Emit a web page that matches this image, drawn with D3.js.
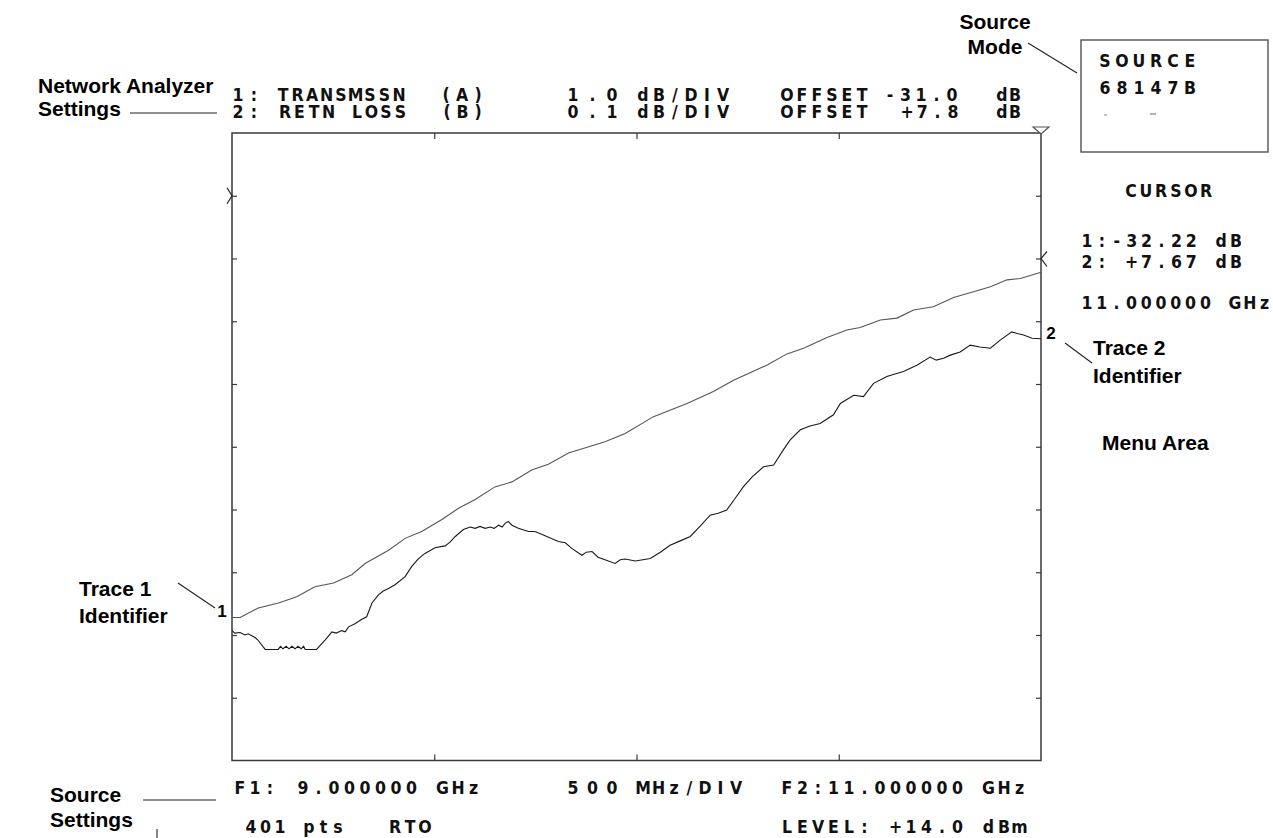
<!DOCTYPE html>
<html><head><meta charset="utf-8">
<script src="https://cdn.jsdelivr.net/npm/d3@7"></script>
<style>
html,body{margin:0;padding:0;background:#fff;}
svg{display:block;}
.mono{font-family:"DejaVu Sans Condensed","DejaVu Sans",sans-serif;font-weight:bold;font-size:17.5px;fill:#111;}
.lab{font-family:"Liberation Sans",Arial,sans-serif;font-weight:bold;font-size:21px;fill:#000;}
</style></head>
<body>
<svg id="c" width="1273" height="838"></svg>
<script>
// ---------------- DATA ----------------
// Frequency axis (GHz)
const fStart = 9.0, fStop = 11.0;
const xTickValues = [9.5, 10.0, 10.5];
// Trace 1: transmission, 1.0 dB/div, offset -31.0 dB (reference at division 9)
const trace1Freq = [9.000,9.020,9.065,9.115,9.160,9.205,9.251,9.296,9.329,9.387,9.428,9.469,9.519,9.560,9.601,9.650,9.692,9.741,9.782,9.832,9.922,9.972,10.042,10.125,10.190,10.240,10.322,10.372,10.413,10.471,10.520,10.553,10.603,10.644,10.685,10.734,10.784,10.833,10.875,10.916,10.949,11.000];
const trace1dB   = [-37.72,-37.72,-37.57,-37.49,-37.39,-37.23,-37.17,-37.04,-36.86,-36.65,-36.46,-36.35,-36.16,-35.98,-35.84,-35.64,-35.56,-35.37,-35.28,-35.10,-34.92,-34.79,-34.52,-34.31,-34.12,-33.94,-33.70,-33.52,-33.43,-33.26,-33.14,-33.10,-32.98,-32.95,-32.82,-32.77,-32.62,-32.53,-32.45,-32.34,-32.32,-32.22];
// Trace 2: return loss, 0.1 dB/div, offset +7.8 dB (reference at division 8)
const trace2Freq = [9.000,9.007,9.020,9.032,9.040,9.057,9.064,9.082,9.114,9.120,9.126,9.134,9.141,9.148,9.156,9.163,9.171,9.177,9.181,9.209,9.230,9.247,9.258,9.271,9.280,9.288,9.304,9.321,9.333,9.346,9.362,9.374,9.387,9.403,9.428,9.444,9.460,9.477,9.502,9.527,9.539,9.552,9.572,9.589,9.601,9.613,9.626,9.638,9.648,9.659,9.668,9.675,9.683,9.692,9.708,9.733,9.749,9.774,9.807,9.824,9.840,9.865,9.876,9.890,9.905,9.922,9.947,9.960,9.972,9.997,10.034,10.059,10.083,10.108,10.133,10.158,10.182,10.202,10.223,10.244,10.264,10.286,10.314,10.339,10.363,10.380,10.405,10.429,10.454,10.487,10.504,10.537,10.561,10.586,10.619,10.639,10.660,10.693,10.726,10.741,10.759,10.776,10.800,10.825,10.849,10.875,10.899,10.928,10.944,10.957,10.978,11.000];
const trace2dB   = [7.207,7.203,7.204,7.200,7.202,7.196,7.192,7.177,7.177,7.182,7.178,7.182,7.178,7.182,7.178,7.182,7.178,7.182,7.177,7.177,7.192,7.205,7.203,7.207,7.205,7.213,7.218,7.225,7.229,7.251,7.264,7.270,7.274,7.280,7.293,7.309,7.321,7.330,7.339,7.342,7.348,7.357,7.368,7.372,7.370,7.373,7.370,7.372,7.370,7.375,7.372,7.378,7.381,7.375,7.370,7.365,7.365,7.358,7.349,7.347,7.338,7.327,7.332,7.333,7.324,7.320,7.314,7.320,7.321,7.318,7.322,7.332,7.343,7.350,7.357,7.374,7.391,7.394,7.399,7.418,7.436,7.452,7.468,7.471,7.495,7.511,7.527,7.533,7.537,7.551,7.569,7.582,7.580,7.601,7.612,7.616,7.620,7.630,7.643,7.638,7.641,7.646,7.651,7.662,7.659,7.657,7.670,7.683,7.680,7.678,7.673,7.672];
const trace1Scale = {perDiv: 1.0, offset: -31.0, refDiv: 9};
const trace2Scale = {perDiv: 0.1, offset: 7.8, refDiv: 8};
const nDiv = 10;
const cursorFreq = 11.0;

// Instrument screen text rows: [text, firstCharCenterX, pitch, baselineY]
const headerTexts = [
  ["1:",238,16,101],["TRANSMSSN",283,14.5,101],["(A)",446,16,101],["1.0",573,19.5,101],["dB/DIV",643,16,101],["OFFSET",787,15,101],["-31.0",890,15.5,101],["dB",1002,13,101],
  ["2:",238,16,118],["RETN",285,14.5,118],["LOSS",357,14.5,118],["(B)",447,15.5,118],["0.1",573,19.5,118],["dB/DIV",643,16,118],["OFFSET",787,15,118],["+7.8",907,15.3,118],["dB",1002,13,118]
];
const footerTexts = [
  ["F1:",240,15,794],["9.000000 GHz",303,15.5,794],["500",573,19.5,794],["MHz/DIV",643,15.5,794],["F2:11.000000 GHz",787,15.5,794],
  ["401 pts",251,14.5,833],["RTO",395,15,833],["LEVEL: +14.0 dBm",787,15.5,833]
];
const panelTexts = [
  ["SOURCE",1105,17,67],["68147B",1105,17,94],
  ["CURSOR",1131,15,197],
  ["1:-32.22 dB",1087,14.9,247],["2: +7.67 dB",1087,14.9,268],
  ["11.000000 GHz",1087,14.8,309]
];
// Annotation labels: [text, x, y, anchor]
const annotations = [
  ["Network Analyzer",38,93,"start"],["Settings",38,116,"start"],
  ["Source",995,29,"middle"],["Mode",995,54,"middle"],
  ["Trace 1",79,596,"start"],["Identifier",79,623,"start"],
  ["Trace 2",1093,355,"start"],["Identifier",1093,383,"start"],
  ["Menu Area",1102,450,"start"],
  ["Source",50,802,"start"],["Settings",50,827,"start"]
];

// ---------------- DRAW ----------------
const svg = d3.select("#c");
const L = 232, R = 1041, T = 133, B = 760.5;
const x = d3.scaleLinear().domain([fStart, fStop]).range([L, R]);
const yDiv = d3.scaleLinear().domain([0, nDiv]).range([B, T]);
function yFor(s){ // dB -> pixel using division scale
  const lo = s.offset - s.refDiv*s.perDiv, hi = lo + nDiv*s.perDiv;
  return d3.scaleLinear().domain([lo, hi]).range([B, T]);
}
const y1 = yFor(trace1Scale), y2 = yFor(trace2Scale);

const frameColor = "#3a3a3a";
// axes ticks (inward)
const divTicks = d3.range(1, nDiv);
const gB = svg.append("g").attr("transform", `translate(0,${B})`)
  .call(d3.axisBottom(x).tickValues(xTickValues).tickSize(-6).tickFormat(""));
const gT = svg.append("g").attr("transform", `translate(0,${T})`)
  .call(d3.axisTop(x).tickValues(xTickValues).tickSize(-6).tickFormat(""));
const gL = svg.append("g").attr("transform", `translate(${L},0)`)
  .call(d3.axisLeft(yDiv).tickValues(divTicks).tickSize(-5).tickFormat(""));
const gR = svg.append("g").attr("transform", `translate(${R},0)`)
  .call(d3.axisRight(yDiv).tickValues(divTicks).tickSize(-5).tickFormat(""));
[gB,gT,gL,gR].forEach(g=>{g.select(".domain").remove(); g.selectAll("line").attr("stroke",frameColor).attr("stroke-width",1.2);});

svg.append("rect").attr("x",L).attr("y",T).attr("width",R-L).attr("height",B-T)
  .attr("fill","none").attr("stroke",frameColor).attr("stroke-width",1.5);

// traces
const line1 = d3.line().x((d,i)=>x(trace1Freq[i])).y(d=>y1(d));
const line2 = d3.line().x((d,i)=>x(trace2Freq[i])).y(d=>y2(d));
svg.append("path").attr("d", line1(trace1dB)).attr("fill","none").attr("stroke","#555").attr("stroke-width",1.1);
svg.append("path").attr("d", line2(trace2dB)).attr("fill","none").attr("stroke","#1a1a1a").attr("stroke-width",1.1);

// reference markers
const r1 = y1(trace1Scale.offset), r2 = y2(trace2Scale.offset);
svg.append("path").attr("d",`M${L-5},${r1-8}L${L},${r1}L${L-5},${r1+8}`).attr("fill","none").attr("stroke","#222").attr("stroke-width",1.2);
svg.append("path").attr("d",`M${R+6},${r2-7}L${R},${r2}L${R+6},${r2+8}`).attr("fill","none").attr("stroke","#222").attr("stroke-width",1.2);
// cursor triangle
const cx = x(cursorFreq);
svg.append("path").attr("d",`M${cx-8},${T-6}L${cx+8},${T-6}L${cx},${T+1}Z`).attr("fill","#fff").attr("stroke","#555").attr("stroke-width",1.2);

// trace identifiers
svg.append("text").attr("class","lab").style("font-size","17px").attr("x",L-10).attr("y",y1(trace1dB[0])).attr("text-anchor","middle").text("1");
svg.append("text").attr("class","lab").style("font-size","17px").attr("x",R+10).attr("y",y2(trace2dB[trace2dB.length-1])).attr("text-anchor","middle").text("2");

// instrument texts
function gridText(arr){
  arr.forEach(([s,x0,p,yb])=>{
    const xs = Array.from(s).map((c,i)=>(x0+i*p).toFixed(1)).join(" ");
    svg.append("text").attr("class","mono").attr("x",xs).attr("y",yb).attr("text-anchor","middle").text(s);
  });
}
gridText(headerTexts); gridText(footerTexts); gridText(panelTexts);

// source box
svg.append("rect").attr("x",1081).attr("y",40).attr("width",187).attr("height",112).attr("fill","none").attr("stroke","#444").attr("stroke-width",1.3);
svg.append("line").attr("x1",1104).attr("x2",1107).attr("y1",115).attr("y2",115).attr("stroke","#888");
svg.append("line").attr("x1",1150).attr("x2",1156).attr("y1",114).attr("y2",114).attr("stroke","#666");

// annotations
annotations.forEach(([s,xx,yy,a])=>{
  svg.append("text").attr("class","lab").attr("x",xx).attr("y",yy).attr("text-anchor",a).text(s);
});
const leaders = [[130,113,217,113],[1028,43,1077,73],[178,583,215,608],[1065,343,1092,363],[143,800,216,800],[157,829,157,838]];
leaders.forEach(([a,b,c,d])=>svg.append("line").attr("x1",a).attr("y1",b).attr("x2",c).attr("y2",d).attr("stroke","#222").attr("stroke-width",1.1));
</script>
</body></html>
